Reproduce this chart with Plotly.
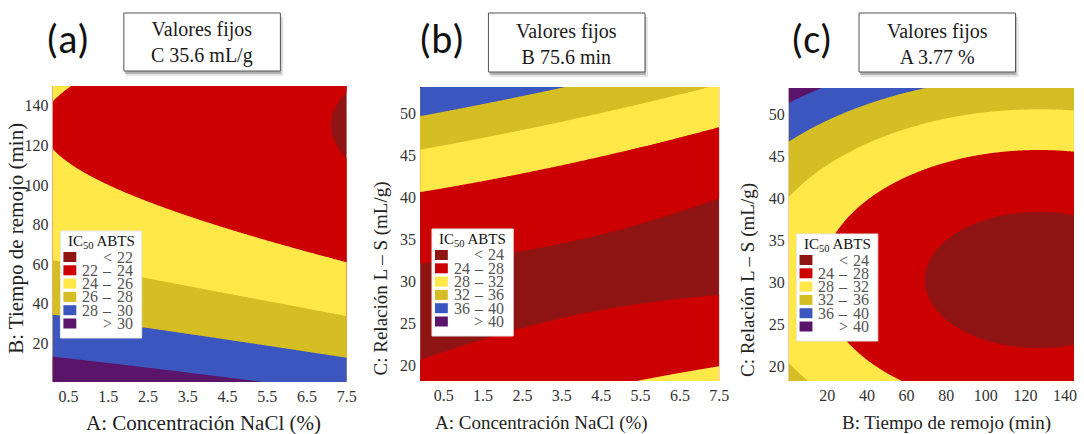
import numpy as np
import plotly.graph_objects as go

W, H = 1084, 434
SERIF = "Liberation Serif"

# ---------------- data ----------------
# Panel (a): contour boundary points  (A: NaCl %, B: time min, IC50 level)
a_A = [0.13, 2.57, 5.26, 0.13, 3.77, 7.5, 0.13, 2.57, 7.5, 0.13, 2.57, 5.26, 7.5, 0.13, 0.5, 7.5, 7.0, 7.5]
a_B = [13.6, 7.5, 0.7, 34.3, 23.4, 13.3, 61.1, 51.9, 33.8, 115.3, 95.5, 73.7, 60.6, 142.5, 149.6, 145.9, 130.0, 112.3]
a_L = [30, 30, 30, 28, 28, 28, 26, 26, 26, 24, 24, 24, 24, 24, 24, 22, 22, 22]
a_W = [2, 2, 3, 1, 1, 1, 1, 1, 1, 1, 1, 1, 1, 1, 1, 1, 1, 1]

# Panel (b): (A: NaCl %, C: L-S ratio mL/g, level)
b_A = [-0.1, 1.64, 3.53, -0.1, 3.32, 7.4, -0.1, 1.64, 3.32, 5.0, 7.5,
       -0.1, 1.64, 3.32, 5.0, 7.5, -0.1, 1.64, 3.32, 5.0, 7.5, 5.25, 7.5]
b_C = [49.7, 51.5, 53.2, 45.6, 49.0, 53.2, 40.7, 41.9, 43.3, 45.4, 48.5,
       32.2, 33.4, 34.6, 36.5, 40.3, 20.5, 23.3, 25.6, 27.0, 28.2, 18.2, 20.0]
b_L = [36, 36, 36, 32, 32, 32, 28, 28, 28, 28, 28,
       24, 24, 24, 24, 24, 24, 24, 24, 24, 24, 28, 28]
b_W = [1] * len(b_L)

# Panel (c): (B: time min, C: L-S ratio mL/g, level)
c_B = [0.5, 17.5, 0.5, 20.0, 45.0, 71.7, 0.5, 17.5, 50.8, 100.8, 134.0, 0.5, 7.5,
       22.5, 34.2, 34.2, 50.8, 84.2, 139.0, 60.8, 66.2, 126.7, 126.7]
c_C = [51.3, 53.2, 46.7, 49.6, 51.8, 53.2, 40.0, 43.8, 48.2, 50.2, 50.5, 20.5, 18.2,
       30.3, 37.9, 22.7, 41.0, 44.4, 45.9, 18.2, 30.3, 39.0, 21.7]
c_L = [40, 40, 36, 36, 36, 36, 32, 32, 32, 32, 32, 32, 32,
       28, 28, 28, 28, 28, 28, 28, 24, 24, 24]
c_W = [2, 2, 3, 3, 8, 8, 1, 1, 1, 4, 4, 1, 1,
       1, 1, 1, 1, 1, 1, 1, 2, 2, 2]

levels_a = [22, 24, 26, 28, 30]
levels_bc = [24, 28, 32, 36, 40]

band_colors = ["#8f1515", "#cc0000", "#ffe848", "#d4be24", "#3c56c0", "#5a1469"]

x_ticks_a = [0.5, 1.5, 2.5, 3.5, 4.5, 5.5, 6.5, 7.5]
y_ticks_a = [20, 40, 60, 80, 100, 120, 140]
y_ticks_bc = [20, 25, 30, 35, 40, 45, 50]
x_ticks_c = [20, 40, 60, 80, 100, 120, 140]

fixed_texts = ["Valores fijos<br>C 35.6 mL/g", "Valores fijos<br>B 75.6 min", "Valores fijos<br>A 3.77 %"]
panel_tags = ["(a)", "(b)", "(c)"]
x_titles = ["A: Concentración NaCl (%)", "A: Concentración NaCl (%)", "B: Tiempo de remojo (min)"]
y_titles = ["B: Tiempo de remojo (min)", "C: Relación L – S (mL/g)", "C: Relación L – S (mL/g)"]

# ---------------- layout geometry (pixels) ----------------
boxes = [(53, 86, 350, 382), (424, 87, 726, 381), (796, 88, 1084, 381)]
ranges = [((0.1, 7.5), (0.5, 150)), ((-0.1, 7.5), (18.2, 53.2)), ((0.5, 144.5), (18.2, 53.2))]
use_cross = [True, True, False]


def px(x):
    return x / W


def py(y):
    return 1 - y / H


def fit_surface(xs, ys, lv, wt, xr, yr, cross=True, n=300):
    xs, ys, lv = np.asarray(xs, float), np.asarray(ys, float), np.asarray(lv, float)
    w = np.sqrt(np.asarray(wt, float))
    mx, sx = (xr[0] + xr[1]) / 2, (xr[1] - xr[0]) / 2
    my, sy = (yr[0] + yr[1]) / 2, (yr[1] - yr[0]) / 2

    def design(x, y):
        u, v = (x - mx) / sx, (y - my) / sy
        cols = [np.ones_like(u), u, v, u * u, v * v]
        if cross:
            cols.append(u * v)
        return np.stack(cols, axis=-1)

    coef, *_ = np.linalg.lstsq(design(xs, ys) * w[:, None], lv * w, rcond=None)
    gx = np.linspace(xr[0], xr[1], n)
    gy = np.linspace(yr[0], yr[1], n)
    GX, GY = np.meshgrid(gx, gy)
    Z = design(GX, GY) @ coef
    return gx, gy, Z


def stepped_scale(colors):
    # values used by plotly fills: 0.1, 0.3, 0.5, 0.7, 0.9, >=1
    edges = [0, 0.2, 0.4, 0.6, 0.8, 0.95, 1.0]
    sc = []
    for i, c in enumerate(colors):
        sc.append([edges[i], c])
        sc.append([edges[i + 1], c])
    return sc


fig = go.Figure()
datasets = [(a_A, a_B, a_L, a_W, levels_a), (b_A, b_C, b_L, b_W, levels_bc), (c_B, c_C, c_L, c_W, levels_bc)]
axis_ids = ["", "2", "3"]

for k, (xs, ys, lv, wt, levels) in enumerate(datasets):
    xr, yr = ranges[k]
    gx, gy, Z = fit_surface(xs, ys, lv, wt, xr, yr, cross=use_cross[k])
    step = levels[1] - levels[0]
    fig.add_trace(go.Contour(
        x=gx, y=gy, z=Z,
        contours=dict(start=levels[0], end=levels[-1], size=step, coloring="fill", showlines=False),
        line=dict(width=0),
        colorscale=stepped_scale(band_colors),
        showscale=False, hoverinfo="skip",
        xaxis="x" + axis_ids[k], yaxis="y" + axis_ids[k],
    ))

tickfont = dict(family=SERIF, size=16, color="#333333")
xticks = [x_ticks_a, x_ticks_a, x_ticks_c]
yticks = [y_ticks_a, y_ticks_bc, y_ticks_bc]
lay = {}
for k in range(3):
    l, t, r, b = boxes[k]
    xr, yr = ranges[k]
    sfx = axis_ids[k]
    lay["xaxis" + sfx] = dict(domain=[px(l), px(r)], range=list(xr), anchor="y" + sfx,
                              tickvals=xticks[k], ticktext=[str(v) for v in xticks[k]],
                              showgrid=False, zeroline=False, showline=False, ticks="",
                              tickfont=tickfont, ticklabelstandoff=3)
    lay["yaxis" + sfx] = dict(domain=[py(b), py(t)], range=list(yr), anchor="x" + sfx,
                              tickvals=yticks[k], showgrid=False, zeroline=False, showline=False,
                              ticks="", tickfont=tickfont, ticklabelstandoff=3)

shapes = []
annotations = []

# axis titles
xt_pos = [(205, 423, 21), (547, 423, 19), (955, 423, 19)]
yt_pos = [(16, 238, 21), (385, 278, 19), (755, 280, 19)]
for k in range(3):
    x, y, s = xt_pos[k]
    annotations.append(dict(x=px(x), y=py(y), xref="paper", yref="paper", text=x_titles[k],
                            showarrow=False, font=dict(family=SERIF, size=s, color="#222222"),
                            xanchor="center", yanchor="middle"))
    x, y, s = yt_pos[k]
    annotations.append(dict(x=px(x), y=py(y), xref="paper", yref="paper", text=y_titles[k],
                            showarrow=False, textangle=-90,
                            font=dict(family=SERIF, size=s, color="#222222"),
                            xanchor="center", yanchor="middle"))

# header boxes and panel tags
hdr_boxes = [(125, 13, 283, 71), (493, 13, 651, 72), (867, 13, 1025, 72)]
tag_pos = [(68, 39), (446, 39), (819, 39)]
for k in range(3):
    x0, y0, x1, y1 = hdr_boxes[k]
    shapes.append(dict(type="rect", xref="paper", yref="paper", x0=px(x0 + 2), x1=px(x1 + 3),
                       y0=py(y1 + 5), y1=py(y0 + 4), fillcolor="rgba(0,0,0,0.10)", line=dict(width=0)))
    shapes.append(dict(type="rect", xref="paper", yref="paper", x0=px(x0 + 1), x1=px(x1 + 1),
                       y0=py(y1 + 3), y1=py(y0 + 2), fillcolor="rgba(0,0,0,0.22)", line=dict(width=0)))
    shapes.append(dict(type="rect", xref="paper", yref="paper", x0=px(x0), x1=px(x1),
                       y0=py(y1), y1=py(y0), fillcolor="white", line=dict(color="#555555", width=1)))
    annotations.append(dict(x=px((x0 + x1) / 2), y=py((y0 + y1) / 2 + 1), xref="paper", yref="paper",
                            text=fixed_texts[k], showarrow=False, align="center",
                            font=dict(family=SERIF, size=20, color="#1a1a1a"),
                            xanchor="center", yanchor="middle"))
    tx, ty = tag_pos[k]
    annotations.append(dict(x=px(tx), y=py(ty), xref="paper", yref="paper", text=panel_tags[k],
                            showarrow=False, font=dict(family="Carlito", size=40, color="#111111"),
                            xanchor="center", yanchor="middle"))

# in-plot legends
leg_pos = [(61, 231), (436, 229), (804, 234)]
all_levels = [levels_a, levels_bc, levels_bc]
for k in range(3):
    L, T = leg_pos[k]
    lv = all_levels[k]
    rows = [("", "<", str(lv[0]))] + [(str(lv[i]), "–", str(lv[i + 1])) for i in range(len(lv) - 1)] \
        + [("", ">", str(lv[-1]))]
    shapes.append(dict(type="rect", xref="paper", yref="paper", x0=px(L), x1=px(L + 82),
                       y0=py(T + 107), y1=py(T), fillcolor="white", line=dict(color="#e6e6e6", width=1)))
    annotations.append(dict(x=px(L + 41), y=py(T + 11), xref="paper", yref="paper",
                            text="IC<sub>50</sub> ABTS", showarrow=False,
                            font=dict(family=SERIF, size=15, color="#111111"),
                            xanchor="center", yanchor="middle"))
    for i, (lo, sym, hi) in enumerate(rows):
        yc = T + 26 + 13.3 * i
        shapes.append(dict(type="rect", xref="paper", yref="paper", x0=px(L + 3), x1=px(L + 16),
                           y0=py(yc + 5), y1=py(yc - 5), fillcolor=band_colors[i], line=dict(width=0)))
        for txt, xc in ((lo, L + 30), (sym, L + 47), (hi, L + 65)):
            if txt:
                annotations.append(dict(x=px(xc), y=py(yc), xref="paper", yref="paper", text=txt,
                                        showarrow=False,
                                        font=dict(family=SERIF, size=16, color="#555555"),
                                        xanchor="center", yanchor="middle"))

fig.update_layout(
    width=W, height=H, margin=dict(l=0, r=0, t=0, b=0),
    paper_bgcolor="white", plot_bgcolor="white", showlegend=False,
    shapes=shapes, annotations=annotations, **lay,
)

fig.write_html("out.html", config={"displayModeBar": False},
               post_script="document.body.style.margin='0';document.body.style.overflow='hidden';")
